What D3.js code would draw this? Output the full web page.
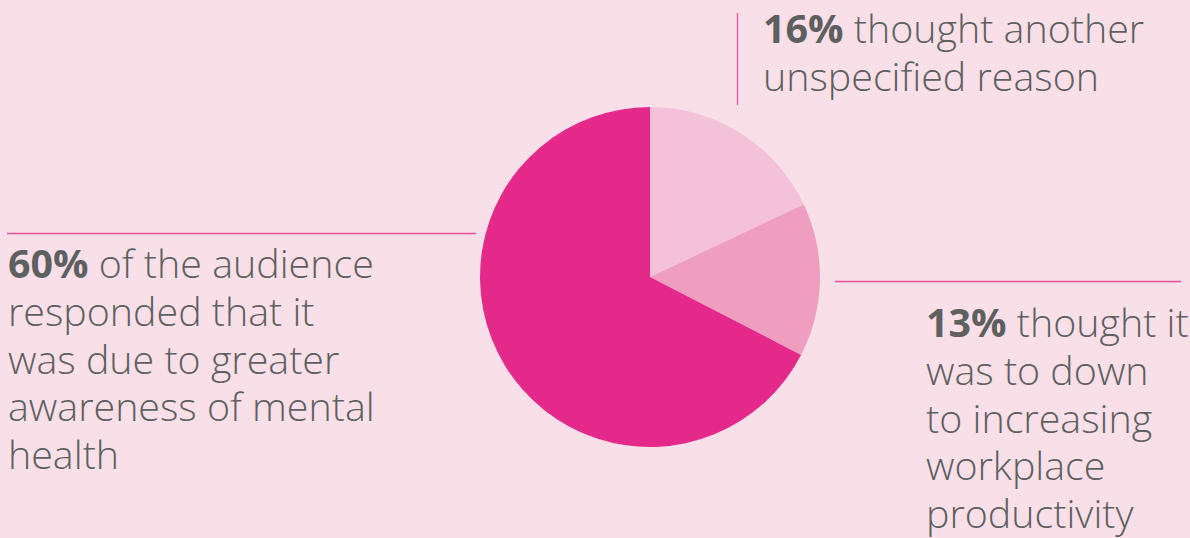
<!DOCTYPE html>
<html><head><meta charset="utf-8">
<script src="https://cdn.jsdelivr.net/npm/d3@7"></script>
<style>
html,body{margin:0;padding:0;background:#f9dfe8;}
svg{display:block;}
</style></head>
<body>
<svg id="c" width="1190" height="538"></svg>
<script>
const categories = ["another unspecified reason", "increasing workplace productivity", "greater awareness of mental health"];
const values = [16, 13, 60];
const colors = ["#f4c2d8", "#f09ec0", "#e5298b"];
const labelBold = ["16%", "13%", "60%"];
const labelLines = [
  [" thought another", "unspecified reason"],
  [" thought it", "was to down", "to increasing", "workplace", "productivity"],
  [" of the audience", "responded that it", "was due to greater", "awareness of mental", "health"]
];

const svg = d3.select("#c");
const cx = 650, cy = 277, r = 170;
const pie = d3.pie().sort(null).value(d => d);
const arc = d3.arc().innerRadius(0).outerRadius(r);
svg.append("g").attr("transform", `translate(${cx},${cy})`)
  .selectAll("path").data(pie(values)).join("path")
  .attr("d", arc).attr("fill", (d, i) => colors[i]);

const lineColor = "#e6509a";
svg.append("line").attr("x1", 737.5).attr("x2", 737.5).attr("y1", 13).attr("y2", 105)
  .attr("stroke", lineColor).attr("stroke-width", 1.3);
svg.append("line").attr("x1", 7).attr("x2", 476).attr("y1", 233.5).attr("y2", 233.5)
  .attr("stroke", lineColor).attr("stroke-width", 1.3);
svg.append("line").attr("x1", 835).attr("x2", 1181).attr("y1", 281.5).attr("y2", 281.5)
  .attr("stroke", lineColor).attr("stroke-width", 1.3);

const font = "'Open Sans', sans-serif";
let fs = 34;
const lh = 47.8;
const pos = [
  {x: 763, y: 43},
  {x: 926, y: 337},
  {x: 8, y: 278}
];
const allTexts = [];
let fitNode = null;
labelLines.forEach((lines, i) => {
  lines.forEach((ln, j) => {
    const t = svg.append("text").attr("x", pos[i].x).attr("y", pos[i].y + j * lh)
      .attr("font-family", font).attr("font-size", fs).attr("fill", "#5e605f");
    if (j === 0) {
      t.append("tspan").attr("font-weight", 700).text(labelBold[i]);
      t.append("tspan").attr("font-weight", 300).text(ln);
      if (i === 2) fitNode = t.node();
    } else {
      t.attr("font-weight", 300).text(ln);
    }
    allTexts.push(t);
  });
});
// fit font size so the first left line spans the same width as in the reference
const w = fitNode.getComputedTextLength();
fs = fs * 366 / w;
allTexts.forEach(t => t.attr("font-size", fs));
</script>
</body></html>
